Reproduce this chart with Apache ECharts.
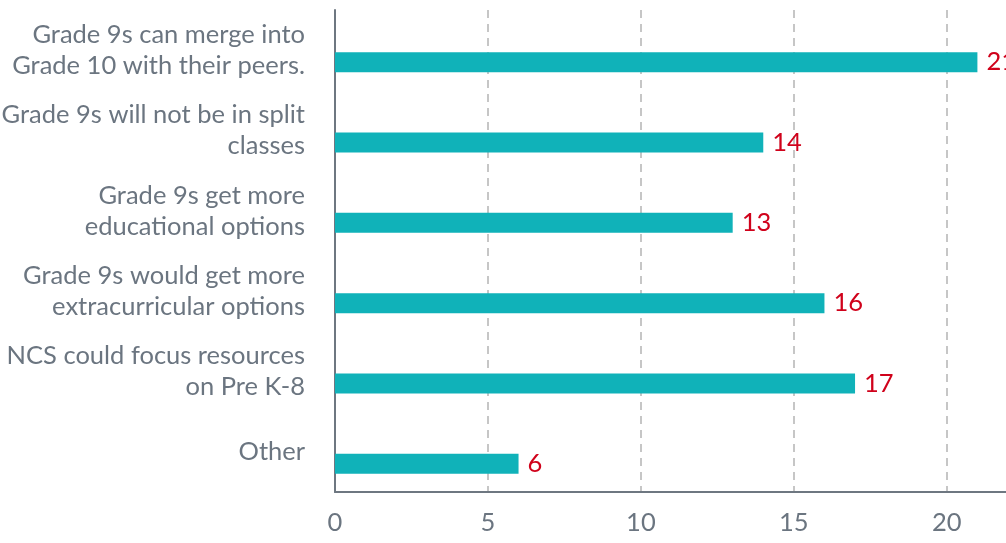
<!DOCTYPE html>
<html><head><meta charset="utf-8">
<script src="https://cdn.jsdelivr.net/npm/echarts@6/dist/echarts.min.js"></script>
<style>html,body{margin:0;padding:0;background:#fff;overflow:hidden}#c{width:1006px;height:543px}</style>
</head><body><div id="c"></div>
<script>
const categories = [
  "Grade 9s can merge into\nGrade 10 with their peers.",
  "Grade 9s will not be in split\nclasses",
  "Grade 9s get more\neducational options",
  "Grade 9s would get more\nextracurricular options",
  "NCS could focus resources\non Pre K-8",
  "Other"
];
const values = [21, 14, 13, 16, 17, 6];
const xTicks = [0, 5, 10, 15, 20];

const chart = echarts.init(document.getElementById('c'));
chart.setOption({
  animation: false,
  grid: { left: 335, top: 10, bottom: 51, width: 673, containLabel: false, outerBoundsMode: 'none' },
  xAxis: {
    type: 'value', min: 0, max: 22, interval: 5,
    axisLine: { show: true, lineStyle: { color: '#6e7781', width: 2 } },
    axisTick: { show: false },
    splitLine: { show: true, lineStyle: { color: '#b4b4b4', type: [8, 6], width: 1.5 } },
    axisLabel: {
      color: '#6b7580', fontFamily: 'Lato', fontSize: 25.5, margin: 18,
      formatter: v => xTicks.includes(v) ? String(v) : ''
    }
  },
  yAxis: {
    type: 'category', data: categories, inverse: true,
    axisLine: { show: true, lineStyle: { color: '#6e7781', width: 2 } },
    axisTick: { show: false },
    axisLabel: { color: '#6b7580', fontFamily: 'Lato', fontSize: 25.5, lineHeight: 31, margin: 30, align: 'right', padding: [8, 0, 0, 0] }
  },
  series: [
    { type: 'bar', data: values.map(() => '-'), barWidth: 20, barGap: '20%', silent: true },
    {
      type: 'bar', data: values, barWidth: 20, barGap: '20%',
      itemStyle: { color: '#10b2b9' },
      label: { show: true, position: 'right', distance: 9, color: '#d0021b', fontFamily: 'Lato', fontSize: 25.5 }
    }
  ]
});
</script></body></html>
